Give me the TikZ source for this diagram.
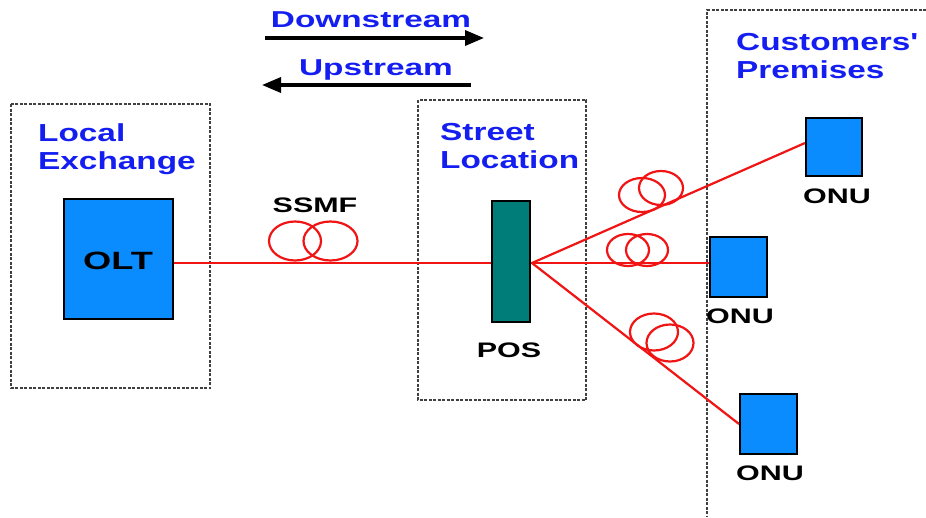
\documentclass[tikz,border=0pt]{standalone}
\usepackage{fontspec}
\usepackage{graphicx}
\setmainfont{Liberation Sans}
\usetikzlibrary{arrows.meta}
\definecolor{lblue}{RGB}{20,30,240}
\definecolor{boxblue}{RGB}{10,140,255}
\definecolor{teal2}{RGB}{0,125,120}
\definecolor{fred}{RGB}{240,20,20}
\newcommand{\sx}[1]{\scalebox{1.45}[1]{#1}}
\newcommand{\sxt}[1]{\scalebox{1.45}[1.07]{#1}}
\tikzset{
  zone/.style={draw=black!75, dash pattern=on 3pt off 1.5pt, line width=1.2pt},
  ttl/.style={text=lblue, font=\fontsize{23}{28.5}\selectfont\bfseries, align=left, inner sep=0pt, anchor=north west},
  dev/.style={draw=black, line width=2pt, fill=boxblue, inner sep=0pt},
  lbl/.style={font=\fontsize{21}{24}\selectfont\bfseries, inner sep=0pt},
  fib/.style={fred, line width=2.2pt},
  coil/.style={fred, line width=2.2pt},
  dir/.style={line width=3.4pt, -{Triangle[length=19pt,width=15pt]}},
}
\begin{document}
\begin{tikzpicture}[x=1pt,y=-1pt]
\useasboundingbox (0,0) rectangle (926,517);
% zones
\draw[zone] (11,104) rectangle (210,388);
\draw[zone] (418,100) rectangle (586,400);
\draw[zone] (926,10) -- (707,10) -- (707,517);
\node[ttl] (tle) at (38,123) {\sxt{Local}\\\sxt{Exchange}};
\node[ttl] (tst) at (440,123) {\sxt{Street}\\\sxt{Location}};
\node[ttl] (tcp) at (736,33) {\sxt{Customers\textquotesingle}\\\sxt{Premises}};
% direction arrows
\node[text=lblue, font=\fontsize{23}{26}\selectfont\bfseries, inner sep=0pt] (tdown) at (371,20) {\sx{Downstream}};
\node[text=lblue, font=\fontsize{23}{26}\selectfont\bfseries, inner sep=0pt] (tup) at (376,70) {\sx{Upstream}};
\coordinate (d1) at (265,38); \coordinate (d2) at (484,38);
\coordinate (u1) at (471,85); \coordinate (u2) at (262,85);
\draw[dir] (d1) -- (d2);
\draw[dir] (u1) -- (u2);
% devices
\node[dev, minimum width=109pt, minimum height=120pt] (olt) at (118.5,259) {};
\node[lbl, font=\fontsize{25}{28}\selectfont\bfseries] (oltl) at (118,261) {\sx{OLT}};
\coordinate (split) at (532,263);
\draw[fib] (olt.east |- split) -- (split);
\node[draw=black, line width=1.6pt, fill=teal2, minimum width=38pt, minimum height=121pt, inner sep=0pt] (pos) at (511,261.5) {};
\node[lbl] (posl) at (509,350) {\sx{POS}};
\node[dev, minimum width=56pt, minimum height=58pt] (onu1) at (834,147) {};
\node[dev, minimum width=57pt, minimum height=60pt] (onu2) at (738.5,267) {};
\node[dev, minimum width=57pt, minimum height=60pt] (onu3) at (768.5,424) {};
\node[lbl] (o1l) at (837,196) {\sx{ONU}};
\node[lbl] (o2l) at (740,316) {\sx{ONU}};
\node[lbl] (o3l) at (770,473) {\sx{ONU}};
\coordinate (e1) at (805,143);
\draw[fib] (split) -- (e1);
\draw[fib] (split) -- (onu2.west |- split);
\draw[fib] (split) -- (onu3.west);
% SSMF coil
\node[lbl] (ssmf) at (315,205) {\sx{SSMF}};
\draw[coil] (295,241) ellipse [x radius=26, y radius=19.5];
\draw[coil] (330.5,241) ellipse [x radius=27, y radius=19.5];
% branch coils
\draw[coil] (642,195) ellipse [x radius=23, y radius=17];
\draw[coil] (661,188) ellipse [x radius=22, y radius=17];
\draw[coil] (628,250) ellipse [x radius=21, y radius=16];
\draw[coil] (647,250) ellipse [x radius=21, y radius=16];
\draw[coil] (654,332) ellipse [x radius=24, y radius=18.5];
\draw[coil] (670,343) ellipse [x radius=23.5, y radius=18.5];
\end{tikzpicture}
\end{document}
